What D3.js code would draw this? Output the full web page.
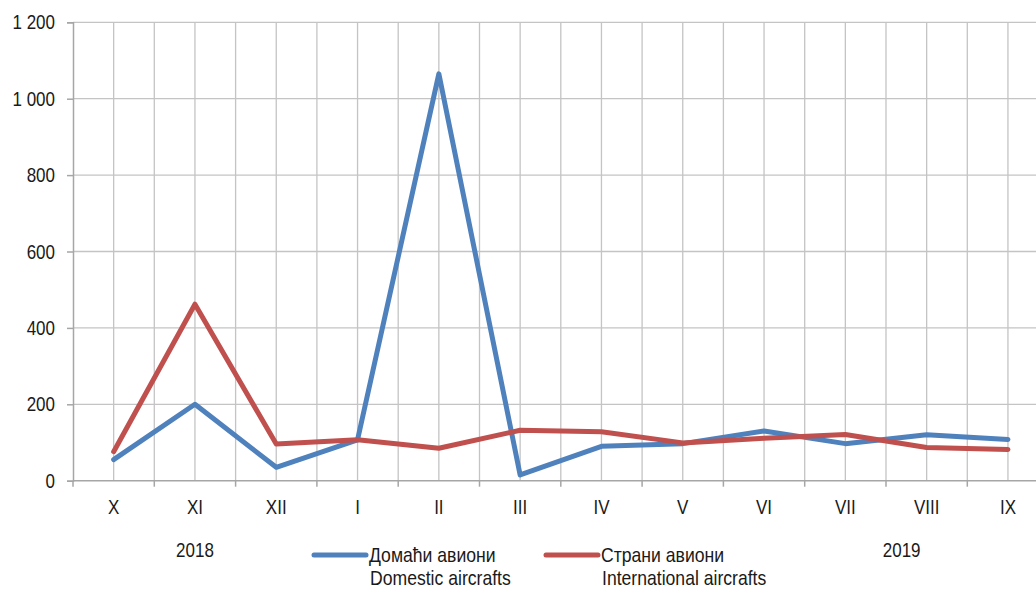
<!DOCTYPE html>
<html><head><meta charset="utf-8">
<script src="https://cdn.jsdelivr.net/npm/d3@7"></script>
<style>
body{margin:0;background:#fff;}
text{font-family:"Liberation Sans Narrow","Arial Narrow","Liberation Sans",sans-serif;fill:#1a1a1a;}
</style></head>
<body><svg id="c" width="1036" height="589"></svg>
<script>
const months = ["X","XI","XII","I","II","III","IV","V","VI","VII","VIII","IX"];
const domestic = [55, 200, 35, 107, 1065, 15, 90, 97, 130, 97, 120, 108];
const international = [76, 462, 96, 107, 85, 132, 128, 99, 111, 121, 87, 82];
const yTicks = [0, 200, 400, 600, 800, 1000, 1200];
const years = [{label:"2018", at:"XI", dx:0}, {label:"2019", at:"VIII", dx:-25}];
const series = [
  {name:"Домаћи авиони", en:"Domestic aircrafts", values:domestic, color:"#4F81BD"},
  {name:"Страни авиони", en:"International aircrafts", values:international, color:"#C0504D"}
];

const svg = d3.select("#c");
const left = 73, step = 81.3;
const FS = 20;
const x = d3.scaleBand().domain(months).range([left, left + step*months.length]).paddingInner(0).paddingOuter(0);
const y = d3.scaleLinear().domain([0,1200]).range([480.7, 22.3]);
const cx = m => x(m) + x.bandwidth()/2;
const fmt = v => d3.format(",")(v).replace(/,/g, " ");

function addText(parent, px, py, str, anchor, sx){
  return parent.append("g").attr("transform", `translate(${px},${py}) scale(${sx || 0.85},1)`)
    .append("text").attr("text-anchor", anchor || "start").attr("font-size", FS).text(str);
}

const g = svg.append("g");
g.selectAll("line.h").data(yTicks.filter(d=>d>0)).enter().append("line")
  .attr("x1", left).attr("x2", left + step*months.length)
  .attr("y1", d=>y(d)).attr("y2", d=>y(d))
  .attr("stroke", "#c4c4c4").attr("stroke-width", 1.3);
const vx = [];
months.forEach(m => { vx.push(cx(m)); vx.push(x(m) + x.bandwidth()); });
g.selectAll("line.v").data(vx).enter().append("line")
  .attr("x1", d=>d).attr("x2", d=>d).attr("y1", y(1200)).attr("y2", y(0))
  .attr("stroke", "#c4c4c4").attr("stroke-width", 1.3);

// y axis
const yAxis = d3.axisLeft(y).tickValues(yTicks).tickSize(6).tickFormat("");
const ya = svg.append("g").attr("transform", `translate(${left},0)`).call(yAxis);
ya.select(".domain").attr("stroke", "#a6a6a6").attr("stroke-width", 1.5);
ya.selectAll(".tick line").attr("stroke", "#a6a6a6").attr("stroke-width", 1.5);
yTicks.forEach(t => addText(svg, left - 18, y(t) + 7, fmt(t), "end"));

// x axis
const xa = svg.append("g").attr("transform", `translate(0,${y(0)})`);
xa.append("line").attr("x1", left).attr("x2", left + step*months.length)
  .attr("stroke", "#a6a6a6").attr("stroke-width", 1.5);
const tickPos = [left].concat(months.map(m => x(m) + x.bandwidth()));
xa.selectAll("line.t").data(tickPos).enter().append("line")
  .attr("x1", d=>d).attr("x2", d=>d).attr("y1", 0).attr("y2", 6)
  .attr("stroke", "#a6a6a6").attr("stroke-width", 1.5);
months.forEach(m => addText(svg, cx(m), y(0) + 33, m, "middle"));

// lines
const line = d3.line().x((d,i)=>cx(months[i])).y(d=>y(d));
series.forEach(s => {
  svg.append("path").datum(s.values).attr("d", line)
    .attr("fill", "none").attr("stroke", s.color).attr("stroke-width", 5)
    .attr("stroke-linejoin", "round").attr("stroke-linecap", "round");
});

// year labels
years.forEach(yr => addText(svg, cx(yr.at) + yr.dx, 557, yr.label, "middle"));

// legend
const legX = [312, 544];
series.forEach((s, i) => {
  const lg = svg.append("g").attr("transform", `translate(${legX[i]},0)`);
  lg.append("line").attr("x1", 2).attr("x2", 54).attr("y1", 555).attr("y2", 555)
    .attr("stroke", s.color).attr("stroke-width", 5).attr("stroke-linecap", "round");
  addText(lg, 57, 562, s.name, "start", 0.88);
  addText(lg, 58, 585, s.en, "start", 0.88);
});
</script></body></html>
